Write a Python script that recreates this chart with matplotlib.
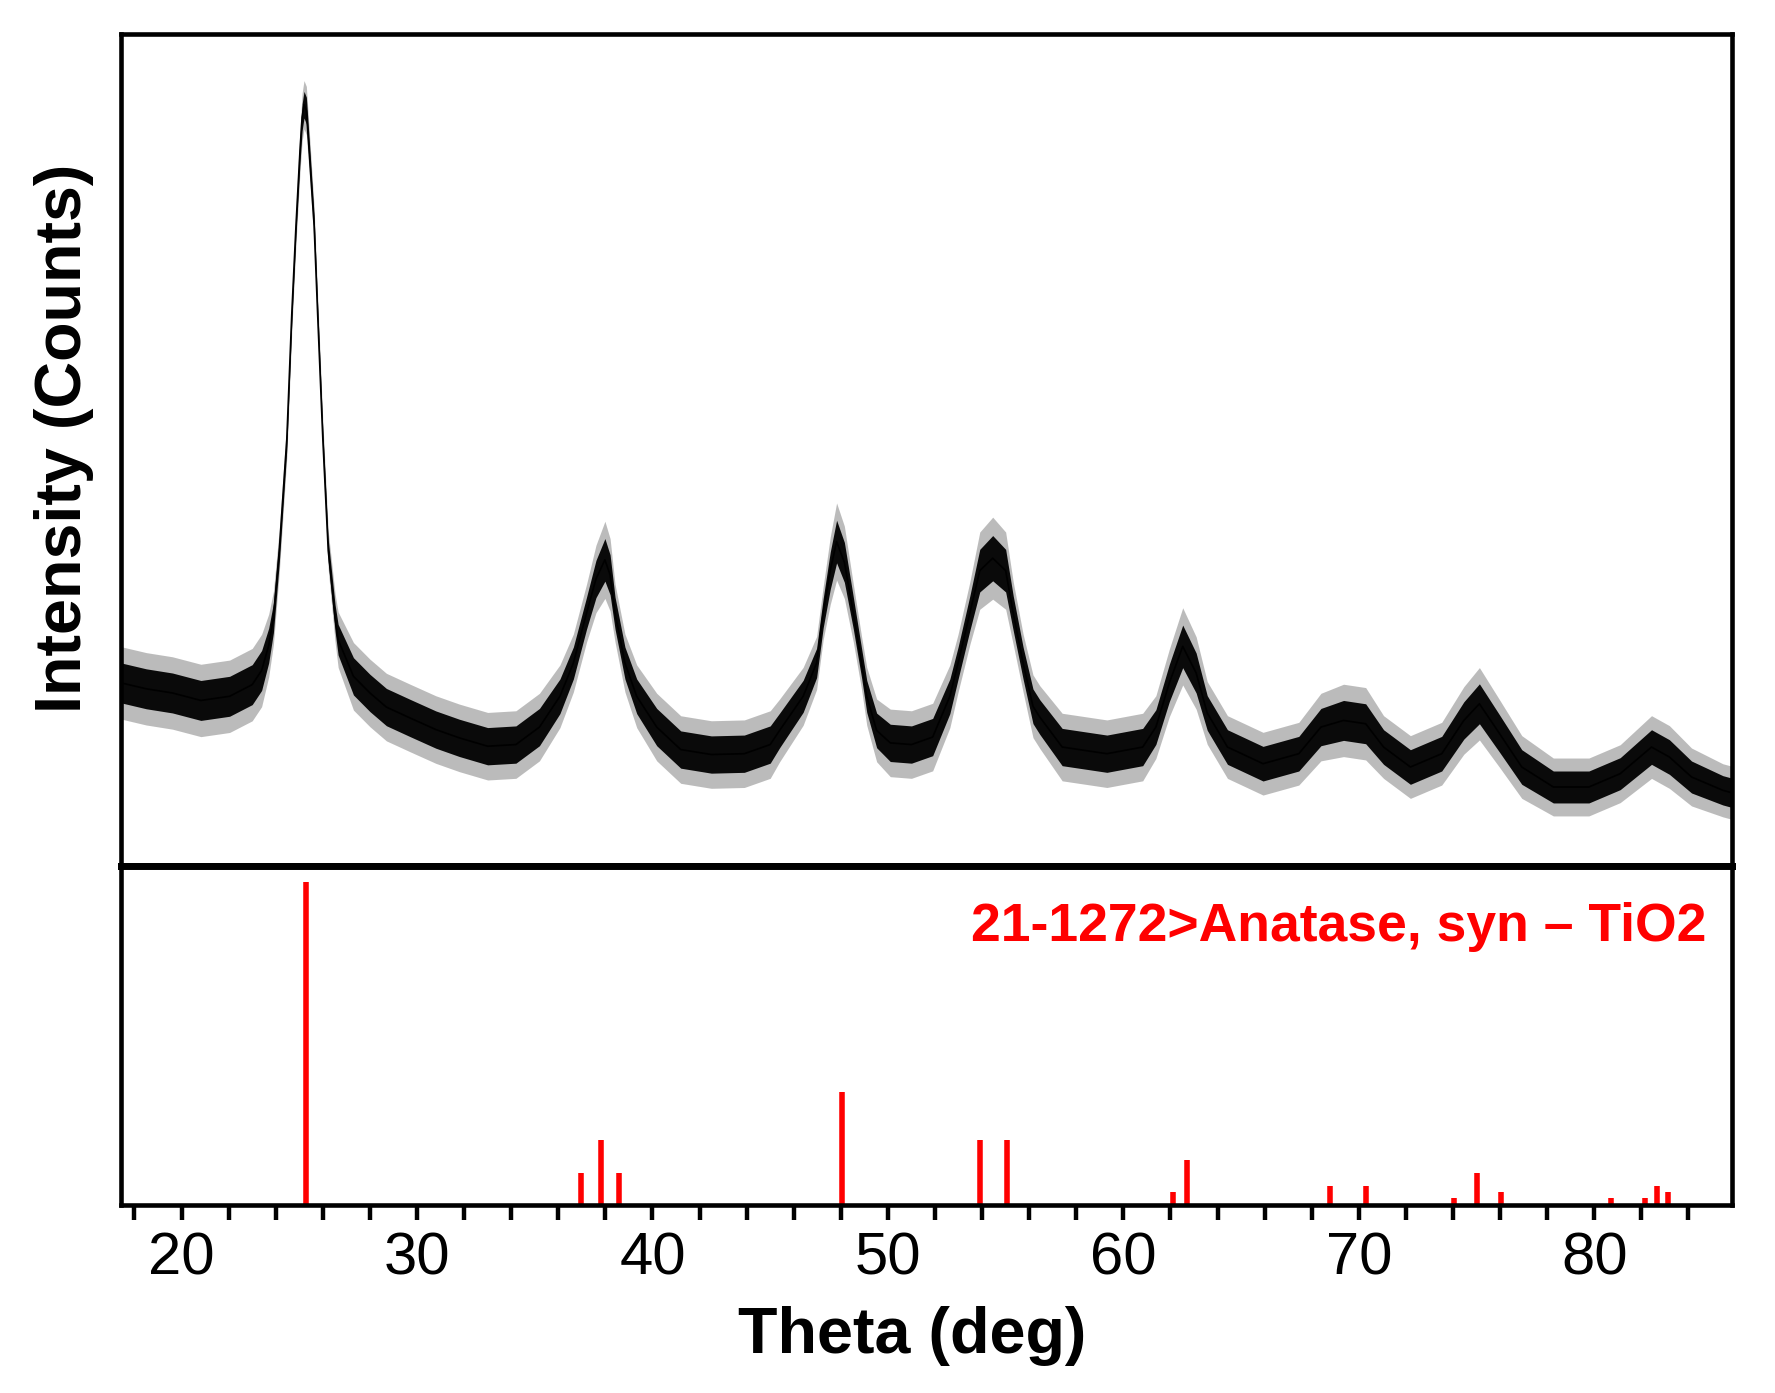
import numpy as np
import matplotlib
matplotlib.use("Agg")
import matplotlib.pyplot as plt

plt.rcParams['font.family'] = ['Liberation Sans', 'DejaVu Sans']

theta = [17.45, 18.5, 19.61, 20.82, 22.04, 23.0, 23.4, 23.7, 23.9, 24.15,
         24.47, 24.68, 24.86, 25.03, 25.12, 25.2, 25.3, 25.43, 25.63, 25.78,
         26.0, 26.23, 26.52, 26.65, 27.3, 28.0, 28.7, 29.7, 30.8, 31.8,
         33.0, 34.2, 35.2, 36.07, 36.64, 37.2, 37.6, 37.98, 38.2, 38.41,
         38.83, 39.33, 40.18, 41.2, 42.5, 43.9, 45.0, 45.4, 46.4, 46.97,
         47.25, 47.55, 47.82, 48.15, 48.53, 48.88, 49.1, 49.52, 50.1, 51.0,
         51.9, 52.63, 52.98, 53.48, 53.9, 54.45, 55.0, 55.32, 55.74, 56.16,
         56.45, 57.40, 59.30, 60.82, 61.38, 61.95, 62.52, 63.09, 63.56, 64.42,
         65.93, 67.45, 68.39, 69.35, 70.29, 71.05, 72.19, 73.52, 74.46, 75.12,
         75.98, 76.92, 78.26, 79.77, 81.10, 82.43, 83.19, 84.13, 85.46, 85.85]
counts = [22.0, 21.3, 20.8, 19.9, 20.4, 21.8, 23.5, 26.5, 29.8, 37.9,
          51.3, 66.3, 77.0, 86.0, 90.0, 91.5, 90.8, 85.5, 77.0, 66.3,
          51.3, 37.9, 29.8, 27.2, 22.8, 20.8, 19.1, 17.8, 16.4, 15.4,
          14.4, 14.6, 16.7, 20.4, 24.4, 30.4, 34.5, 36.8, 35.0, 30.4,
          24.4, 20.4, 16.7, 14.0, 13.4, 13.5, 14.6, 16.3, 20.4, 24.4,
          30.4, 35.5, 39.0, 36.5, 30.4, 24.4, 20.4, 16.3, 14.8, 14.6,
          15.5, 20.4, 24.4, 30.4, 35.5, 37.0, 35.5, 30.4, 24.4, 19.2,
          17.9, 14.3, 13.5, 14.3, 16.7, 22.0, 26.4, 23.2, 18.4, 14.3,
          12.3, 13.5, 16.7, 17.5, 17.1, 14.3, 11.9, 13.5, 17.5, 19.5,
          15.9, 11.9, 9.5, 9.5, 11.1, 14.3, 13.1, 10.7, 9.1, 8.8]
# half thickness of the noisy band
spread = [3.0, 3.0, 3.0, 3.0, 3.0, 3.0, 3.0, 2.6, 2.2, 1.8,
          1.5, 1.5, 1.5, 1.8, 2.0, 2.0, 2.0, 1.8, 1.5, 1.5,
          1.5, 1.6, 2.0, 2.3, 2.8, 2.8, 2.8, 2.8, 2.8, 2.8,
          2.8, 2.8, 2.8, 2.6, 2.4, 2.4, 2.8, 3.2, 3.0, 2.4,
          2.4, 2.6, 2.8, 2.8, 2.8, 2.8, 2.8, 2.6, 2.4, 2.2,
          2.2, 2.8, 3.2, 3.0, 2.4, 2.2, 2.4, 2.6, 2.8, 2.8,
          2.8, 2.6, 2.4, 2.6, 3.2, 3.4, 3.2, 2.6, 2.4, 2.6,
          2.6, 2.8, 2.8, 2.8, 2.6, 2.8, 3.2, 3.0, 2.6, 2.6,
          2.6, 2.6, 2.8, 3.0, 3.0, 2.6, 2.6, 2.6, 2.8, 3.0,
          2.8, 2.6, 2.4, 2.4, 2.4, 2.6, 2.6, 2.4, 2.2, 2.2]

# reference card 21-1272 anatase
ref_theta = [25.281, 36.946, 37.800, 38.575, 48.049, 53.890, 55.060, 62.119, 62.688,
             68.760, 70.309, 74.029, 75.029, 76.017, 80.725, 82.136, 82.659, 83.147]
ref_int = [100, 10, 20, 10, 35, 20, 20, 4, 14, 6, 6, 2, 10, 4, 2, 2, 6, 4]

xmin, xmax = 17.43, 85.85

fig = plt.figure(figsize=(17.75, 13.93), dpi=100)
ax1 = fig.add_axes([0.0682, 0.3783, 0.9076, 0.5973])
ax2 = fig.add_axes([0.0682, 0.1350, 0.9076, 0.2433])

th = np.array(theta)
ct = np.array(counts)
sp = np.array(spread)
# soft outer noise, dense core, then the trace itself
ax1.fill_between(th, ct - 1.45 * sp, ct + 1.45 * sp, color='#6a6a6a', alpha=0.45, lw=0)
ax1.fill_between(th, ct - 0.8 * sp, ct + 0.8 * sp, color='#0a0a0a', lw=0)
ax1.plot(th, ct, color='black', lw=1.2)
ax1.set_xlim(xmin, xmax)
ax1.set_ylim(0, 100)
ax1.set_xticks([])
ax1.set_yticks([])

ax2.vlines(ref_theta, 0, ref_int, colors='#ff0000', lw=4.0)
ax2.set_xlim(xmin, xmax)
ax2.set_ylim(0, 105)
ax2.set_yticks([])
ax2.set_xticks(np.arange(18, 86, 2))
ax2.set_xticklabels([str(v) if v % 10 == 0 else '' for v in range(18, 86, 2)])
ax2.tick_params(axis='x', direction='out', length=11, width=3.2, pad=8, labelsize=43)
ax2.text(0.984, 0.779, '21-1272>Anatase, syn \u2013 TiO2', color='#ff0000',
         fontsize=38.5, fontweight='bold', ha='right', va='baseline', transform=ax2.transAxes)

for ax in (ax1, ax2):
    for s in ax.spines.values():
        s.set_linewidth(3.3)
ax1.spines['bottom'].set_linewidth(5)
ax2.spines['top'].set_linewidth(5)

fig.text(0.514, 0.0287, 'Theta (deg)', fontsize=46.5, fontweight='bold', ha='center', va='baseline')
fig.text(0.036, 0.685, 'Intensity (Counts)', fontsize=46.5, fontweight='bold',
         rotation=90, ha='center', va='center')

fig.savefig('out.png', dpi=100)
